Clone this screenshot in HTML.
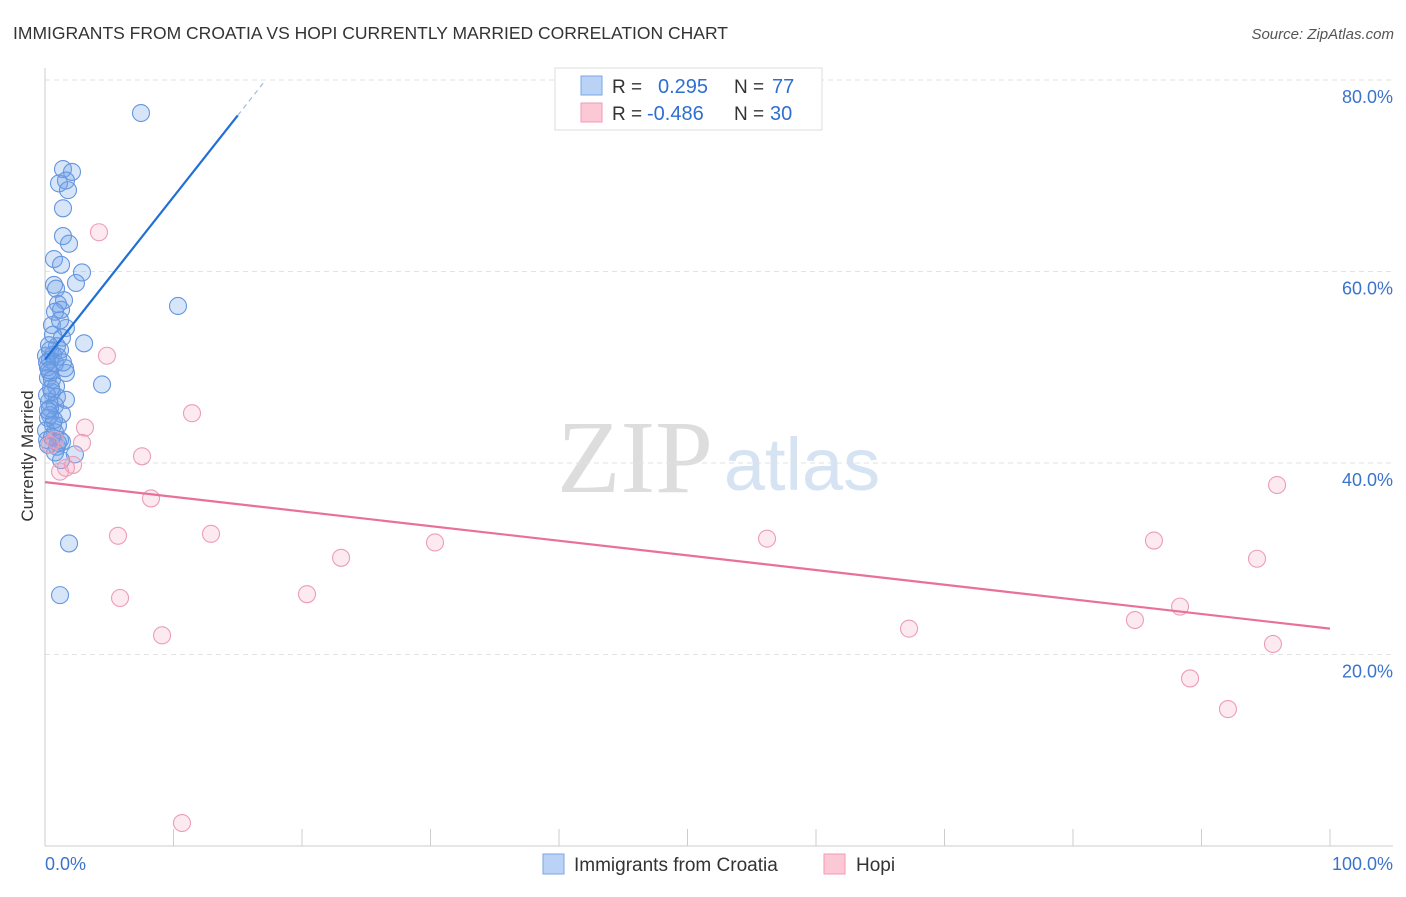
<!DOCTYPE html>
<html><head><meta charset="utf-8"><style>
body{margin:0;background:#fff;font-family:"Liberation Sans",sans-serif}
svg text{font-family:"Liberation Sans",sans-serif}
</style></head><body>
<svg id="c" width="1406" height="892" xmlns="http://www.w3.org/2000/svg">
<text x="13" y="39" font-size="17.5" fill="#333">IMMIGRANTS FROM CROATIA VS HOPI CURRENTLY MARRIED CORRELATION CHART</text>
<text x="1394" y="39" font-size="15" fill="#555" font-style="italic" text-anchor="end">Source: ZipAtlas.com</text>
<text transform="translate(33,456) rotate(-90)" font-size="17" fill="#333" text-anchor="middle">Currently Married</text>
<g><text x="635" y="492" font-size="104" fill="#ddd" font-family="Liberation Serif" text-anchor="middle" style="font-family:'Liberation Serif',serif">ZIP</text><text x="802" y="490" font-size="74" fill="#d6e3f3" text-anchor="middle">atlas</text></g>
<g id="grid"></g><g id="axes"></g><g id="pts"></g><g id="lines"></g>
<g>
<rect x="555" y="68" width="267" height="62" fill="#fff" stroke="#ddd"/>
<rect x="581" y="76" width="21" height="19" fill="#b9d2f5" stroke="#7aa6e6"/>
<rect x="581" y="103" width="21" height="19" fill="#fcc8d6" stroke="#f09ab4"/>
<text x="612" y="93" font-size="19" fill="#333">R =</text><text x="658" y="93" font-size="20" fill="#2f6fd0">0.295</text>
<text x="734" y="93" font-size="19" fill="#333">N =</text><text x="772" y="93" font-size="20" fill="#2f6fd0">77</text>
<text x="612" y="120" font-size="19" fill="#333">R =</text><text x="647" y="120" font-size="20" fill="#2f6fd0">-0.486</text>
<text x="734" y="120" font-size="19" fill="#333">N =</text><text x="770" y="120" font-size="20" fill="#2f6fd0">30</text>
</g>
<g>
<rect x="543" y="854" width="21" height="20" fill="#b9d2f5" stroke="#7aa6e6"/>
<text x="574" y="871" font-size="19" fill="#333">Immigrants from Croatia</text>
<rect x="824" y="854" width="21" height="20" fill="#fcc8d6" stroke="#f09ab4"/>
<text x="856" y="871" font-size="19" fill="#333">Hopi</text>
</g>
</svg>
<script>
const blueX=[7.47,1.40,2.10,1.09,1.63,1.79,1.40,1.40,1.87,0.70,1.25,2.88,2.41,0.70,0.86,1.48,1.01,1.25,0.78,0.54,1.63,1.32,3.04,0.93,1.17,0.62,0.39,0.78,0.23,1.56,1.63,0.39,4.44,0.23,0.54,0.93,1.63,0.31,0.78,1.32,0.39,0.23,0.62,0.78,1.01,1.17,1.32,2.33,1.25,0.23,1.01,1.87,1.17,10.35,0.39,0.08,0.16,0.31,0.54,0.86,0.16,0.39,0.70,0.08,0.54,0.93,0.16,0.78,0.62,1.17,0.31,1.01,1.40,0.47,0.23];
const blueY=[76.55,70.7,70.4,69.2,69.5,68.5,66.6,63.7,62.9,61.3,60.7,59.9,58.8,58.6,58.2,57.0,56.6,56.0,55.8,54.4,54.1,53.1,52.5,52.2,51.8,51.3,50.8,50.4,50.0,49.9,49.4,49.4,48.2,48.9,47.4,46.9,46.6,46.4,46.0,45.1,45.0,44.7,44.0,43.2,43.9,42.4,42.2,40.9,40.3,41.9,42.1,31.6,26.2,56.4,51.8,51.2,50.5,49.7,48.7,48.0,47.1,45.7,44.5,43.4,42.7,41.7,42.4,41.1,53.4,54.9,52.3,51.1,50.5,47.8,45.5];
const pinkX=[4.20,4.82,11.44,3.11,2.88,7.55,2.18,1.17,1.63,0.39,8.25,5.68,12.92,5.84,9.11,23.04,20.39,30.35,56.19,67.24,86.30,88.33,84.82,89.11,92.06,94.32,95.56,95.88,10.66,0.78];
const pinkY=[64.1,51.2,45.2,43.7,42.1,40.7,39.8,39.1,39.5,41.9,36.3,32.4,32.6,25.9,22.0,30.1,26.3,31.7,32.1,22.7,31.9,25.0,23.6,17.5,14.3,30.0,21.1,37.7,2.4,42.4];
const yTicks=[20,40,60,80];
const yTickLabels=["20.0%","40.0%","60.0%","80.0%"];
const blueTrend=[50.8,1.70];
const pinkTrend=[38.0,-0.153];
const X0=45,X1=1330,Y0=846;
const sx=v=>X0+(X1-X0)*v/100;
const sy=v=>Y0-191.5*v/20;
const NS="http://www.w3.org/2000/svg";
function mk(t,a,p){const e=document.createElementNS(NS,t);for(const k in a)e.setAttribute(k,a[k]);p.appendChild(e);return e;}
const grid=document.getElementById('grid'),axes=document.getElementById('axes');
yTicks.forEach((t,i)=>{
 const l=mk('line',{x1:X0,x2:1393,y1:sy(t),y2:sy(t),stroke:'#e2e2e2','stroke-dasharray':'5,4'},grid);
 
 
 const tx=mk('text',{x:1393,y:sy(t)+23,'font-size':18,fill:'#3b73cc','text-anchor':'end'},axes);
 tx.textContent=yTickLabels[i];
 
 
});
mk('line',{x1:X0,x2:X0,y1:68,y2:Y0,stroke:'#ccc'},axes);
mk('line',{x1:X0,x2:1393,y1:Y0,y2:Y0,stroke:'#ccc'},axes);
for(let i=1;i<=10;i++){mk('line',{x1:sx(i*10),x2:sx(i*10),y1:Y0-17,y2:Y0,stroke:'#ccc'},axes);}
const l0=mk('text',{x:45,y:870,'font-size':18,fill:'#3b73cc'},axes);l0.textContent='0.0%';


const l1=mk('text',{x:1393,y:870,'font-size':18,fill:'#3b73cc','text-anchor':'end'},axes);l1.textContent='100.0%';


const pts=document.getElementById('pts');
blueX.forEach((x,i)=>{const c=mk('circle',{cx:sx(x),cy:sy(blueY[i]),r:8.5,fill:'rgba(110,160,235,0.28)',stroke:'#6596de','stroke-width':1.1},pts);
 
 });
pinkX.forEach((x,i)=>{const c=mk('circle',{cx:sx(x),cy:sy(pinkY[i]),r:8.5,fill:'rgba(245,160,185,0.22)',stroke:'#ec9db5','stroke-width':1.1},pts);
 
 });
const lines=document.getElementById('lines');
const bl=mk('line',{x1:sx(0),y1:sy(blueTrend[0]),x2:sx(15),y2:sy(blueTrend[0]+blueTrend[1]*15),stroke:'#1f6fd6','stroke-width':2.2},lines);


mk('line',{x1:sx(15),y1:sy(blueTrend[0]+blueTrend[1]*15),x2:sx(17.1),y2:sy(blueTrend[0]+blueTrend[1]*17.1),stroke:'#9bbce8','stroke-width':1.2,'stroke-dasharray':'5,4'},lines);
const pl=mk('line',{x1:sx(0),y1:sy(pinkTrend[0]),x2:sx(100),y2:sy(pinkTrend[0]+pinkTrend[1]*100),stroke:'#e8709a','stroke-width':2.2},lines);


</script>
</body></html>
